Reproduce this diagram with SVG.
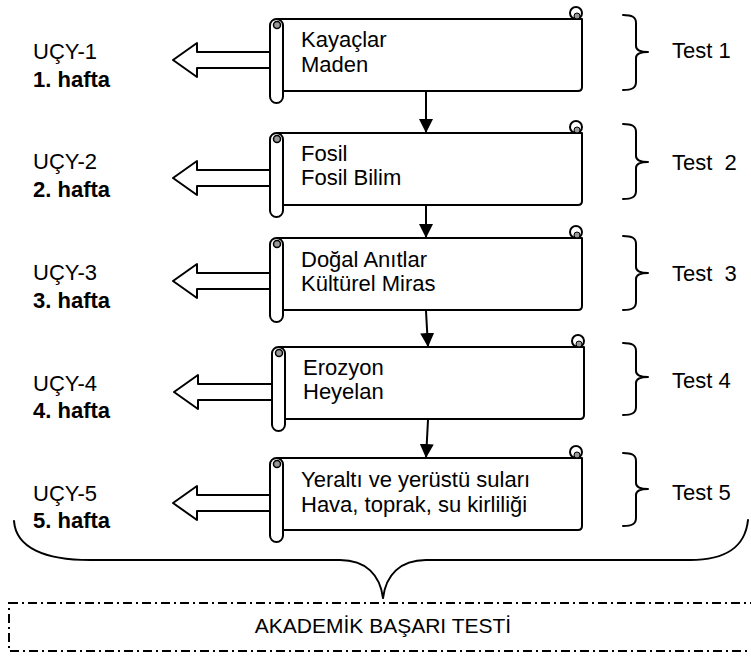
<svg xmlns="http://www.w3.org/2000/svg" width="751" height="657" viewBox="0 0 751 657">
<defs>
<style>
.ln{fill:none;stroke:#000;stroke-width:2;stroke-linejoin:round;stroke-linecap:round}
.wf{fill:#fff;stroke:#000;stroke-width:2;stroke-linejoin:round}
.t{font-family:"Liberation Sans",Arial,sans-serif;font-size:22px;fill:#000;white-space:pre}
.b{font-weight:bold}
.dd{fill:none;stroke:#000;stroke-width:2;stroke-dasharray:9 4 2 4}
</style>
<marker id="ah" viewBox="0 0 14 14" refX="14" refY="7" markerWidth="14" markerHeight="14" markerUnits="userSpaceOnUse" orient="auto">
<path d="M0,0 L14,7 L0,14 Z" fill="#000"/>
</marker>
<g id="scroll">
<path class="wf" d="M-97,-41 L207,-41 L207,27 Q207,31 203,31 L-97,31 Z"/>
<circle class="wf" cx="201" cy="-47" r="6"/>
<circle cx="202" cy="-44" r="3" fill="#999" stroke="#000" stroke-width="1"/>
<rect class="wf" x="-105" y="-41" width="13" height="84" rx="6.5"/>
<circle cx="-98" cy="-35" r="3.5" fill="#999" stroke="#000" stroke-width="1.5"/>
</g>
</defs>

<g id="connectors">
<line class="ln" x1="426" y1="91" x2="426" y2="133" marker-end="url(#ah)"/>
<line class="ln" x1="426" y1="206" x2="426" y2="238" marker-end="url(#ah)"/>
<line class="ln" x1="426" y1="311" x2="428" y2="347" marker-end="url(#ah)"/>
<line class="ln" x1="428" y1="420" x2="426" y2="458" marker-end="url(#ah)"/>
</g>

<g id="arrow1"><polygon class="wf" points="173,60 197,43 197,52 270,52 270,68 197,68 197,77"/></g>
<g id="arrow2"><polygon class="wf" points="173,178 197,161 197,170 270,170 270,186 197,186 197,195"/></g>
<g id="arrow3"><polygon class="wf" points="173,281 197,264 197,273 270,273 270,289 197,289 197,298"/></g>
<g id="arrow4"><polygon class="wf" points="174,392 198,375 198,384 272,384 272,400 198,400 198,409"/></g>
<g id="arrow5"><polygon class="wf" points="173,503 197,486 197,495 270,495 270,511 197,511 197,520"/></g>

<g id="node1">
<use href="#scroll" transform="translate(375,60)"/>
<text class="t" x="301" y="47">Kayaçlar</text>
<text class="t" x="301" y="72">Maden</text>
</g>
<g id="node2">
<use href="#scroll" transform="translate(375,174)"/>
<text class="t" x="301" y="161">Fosil</text>
<text class="t" x="301" y="185">Fosil Bilim</text>
</g>
<g id="node3">
<use href="#scroll" transform="translate(375,279)"/>
<text class="t" x="301" y="267">Doğal Anıtlar</text>
<text class="t" x="301" y="291">Kültürel Miras</text>
</g>
<g id="node4">
<use href="#scroll" transform="translate(377,388)"/>
<text class="t" x="303" y="375">Erozyon</text>
<text class="t" x="303" y="399">Heyelan</text>
</g>
<g id="node5">
<use href="#scroll" transform="translate(375,499)"/>
<text class="t" x="301" y="487">Yeraltı ve yerüstü suları</text>
<text class="t" x="301" y="512">Hava, toprak, su kirliliği</text>
</g>

<g id="labels-left">
<text class="t" x="33" y="59">UÇY-1</text>
<text class="t b" x="33" y="87">1. hafta</text>
<text class="t" x="33" y="169">UÇY-2</text>
<text class="t b" x="33" y="197">2. hafta</text>
<text class="t" x="33" y="280">UÇY-3</text>
<text class="t b" x="33" y="308">3. hafta</text>
<text class="t" x="33" y="391">UÇY-4</text>
<text class="t b" x="33" y="418">4. hafta</text>
<text class="t" x="33" y="501">UÇY-5</text>
<text class="t b" x="33" y="528">5. hafta</text>
</g>

<g id="braces">
<path class="ln" d="M623,15 C632,15 636,17 636,23 V46 C636,50 640,52 648,52 M648,52 C640,52 636,54 636,58 V82 C636,88 632,90 623,90"/>
<path class="ln" d="M623,124 C632,124 636,126 636,132 V156 C636,160 640,162 648,162 M648,162 C640,162 636,164 636,168 V191 C636,197 632,199 623,199"/>
<path class="ln" d="M623,236 C632,236 636,238 636,244 V267 C636,271 640,273 648,273 M648,273 C640,273 636,275 636,279 V302 C636,308 632,310 623,310"/>
<path class="ln" d="M623,343 C632,343 636,345 636,351 V371 C636,375 640,377 648,377 M648,377 C640,377 636,379 636,383 V407 C636,413 632,415 623,415"/>
<path class="ln" d="M623,453 C632,453 636,455 636,461 V483 C636,487 640,489 648,489 M648,489 C640,489 636,491 636,495 V518 C636,524 632,526 623,526"/>
</g>

<g id="labels-right">
<text class="t" x="672" y="58">Test 1</text>
<text class="t" x="672" y="170">Test  2</text>
<text class="t" x="672" y="281">Test  3</text>
<text class="t" x="672" y="388">Test 4</text>
<text class="t" x="672" y="500">Test 5</text>
</g>

<g id="bigbrace">
<path class="ln" d="M14,521 C16,548 45,560 90,560 L340,560 C366,560 380,575 383,598 M383,598 C386,575 400,560 426,560 L690,560 C725,560 745,548 748,520"/>
</g>

<g id="test-box">
<rect class="dd" x="9" y="603" width="760" height="48"/>
<text class="t" x="383" y="633" text-anchor="middle" style="font-size:21px">AKADEMİK BAŞARI TESTİ</text>
</g>
</svg>
